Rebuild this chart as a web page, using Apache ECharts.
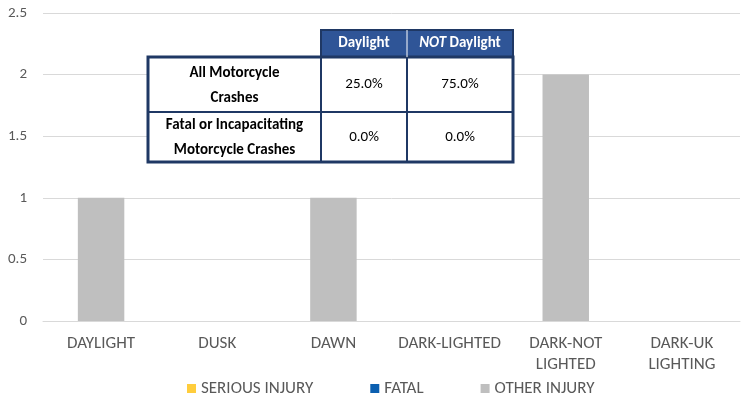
<!DOCTYPE html>
<html><head><meta charset="utf-8">
<script src="https://cdn.jsdelivr.net/npm/echarts@6/dist/echarts.min.js"></script>
<style>html,body{margin:0;padding:0;background:#fff}#c{width:741px;height:405px}</style>
</head><body><div id="c"></div>
<script>
const categories = ['DAYLIGHT','DUSK','DAWN','DARK-LIGHTED','DARK-NOT\nLIGHTED','DARK-UK\nLIGHTING'];
const seriousInjury = [0,0,0,0,0,0];
const fatal = [0,0,0,0,0,0];
const otherInjury = [1,0,1,0,2,0];
const yTicks = [0,0.5,1,1.5,2,2.5];
const tableHeader = ['Daylight','NOT Daylight'];
const tableRowLabels = ['All Motorcycle\nCrashes','Fatal or Incapacitating\nMotorcycle Crashes'];
const tableDaylight = ['25.0%','0.0%'];
const tableNotDaylight = ['75.0%','0.0%'];

const FONT = 'Carlito, "Liberation Sans Narrow", "Open Sans", sans-serif';
const chart = echarts.init(document.getElementById('c'));

// table geometry
const X0=148, X1=321, X2=407, X3=513, Y0=30, Y1=57, Y2=112, Y3=162;
const navy='#1F3864', headFill='#2F5597';
const g=[];
g.push({type:'rect',shape:{x:X1,y:Y0,width:X3-X1,height:Y1-Y0},style:{fill:headFill,stroke:navy,lineWidth:2},z:100});
g.push({type:'line',shape:{x1:X2,y1:Y0,x2:X2,y2:Y1},style:{stroke:'#fff',lineWidth:1},z:101});
g.push({type:'rect',shape:{x:X0,y:Y1,width:X3-X0,height:Y3-Y1},style:{fill:'#fff',stroke:navy,lineWidth:3},z:100});
g.push({type:'line',shape:{x1:X0,y1:Y2,x2:X3,y2:Y2},style:{stroke:navy,lineWidth:2},z:101});
g.push({type:'line',shape:{x1:X1,y1:Y1,x2:X1,y2:Y3},style:{stroke:navy,lineWidth:2},z:101});
g.push({type:'line',shape:{x1:X2,y1:Y1,x2:X2,y2:Y3},style:{stroke:navy,lineWidth:2},z:101});
g.push({type:'text',x:(X1+X2)/2,y:(Y0+Y1)/2,style:{text:tableHeader[0],fill:'#fff',font:'bold 15px '+FONT,align:'center',verticalAlign:'middle'},z:102});
g.push({type:'text',x:(X2+X3)/2,y:(Y0+Y1)/2,style:{
  text:'{i|'+tableHeader[1].split(' ')[0]+'} {b|'+tableHeader[1].split(' ').slice(1).join(' ')+'}',
  rich:{i:{fontStyle:'italic',fontWeight:'bold',fontSize:15,fontFamily:FONT,fill:'#fff'},b:{fontWeight:'bold',fontSize:15,fontFamily:FONT,fill:'#fff'}},
  fill:'#fff',align:'center',verticalAlign:'middle'},z:102});
const rowsY=[[Y1,Y2],[Y2,Y3]];
for(let i=0;i<2;i++){
  const cy=(rowsY[i][0]+rowsY[i][1])/2;
  g.push({type:'text',x:(X0+X1)/2,y:cy+1,style:{text:tableRowLabels[i],fill:'#000',font:'bold 15px '+FONT,align:'center',verticalAlign:'middle',lineHeight:25},z:102});
  g.push({type:'text',x:(X1+X2)/2,y:cy,style:{text:tableDaylight[i],fill:'#000',font:'15px '+FONT,align:'center',verticalAlign:'middle'},z:102});
  g.push({type:'text',x:(X2+X3)/2,y:cy,style:{text:tableNotDaylight[i],fill:'#000',font:'15px '+FONT,align:'center',verticalAlign:'middle'},z:102});
}

chart.setOption({
  animation:false,
  textStyle:{fontFamily:FONT},
  grid:{left:43,right:1,top:13,bottom:84,containLabel:false},
  legend:{left:187,top:380,padding:0,itemWidth:9,itemHeight:9,itemGap:57,icon:'rect',
    textStyle:{color:'#595959',fontSize:17,fontFamily:FONT},
    data:['SERIOUS INJURY','FATAL','OTHER INJURY']},
  xAxis:{type:'category',data:categories,
    axisLine:{lineStyle:{color:'#D9D9D9',width:1}},axisTick:{show:false},
    axisLabel:{color:'#595959',fontSize:17,margin:12,lineHeight:21,interval:0,fontFamily:FONT}},
  yAxis:{type:'value',min:yTicks[0],max:yTicks[yTicks.length-1],interval:0.5,
    axisLine:{show:false},axisTick:{show:false},
    splitLine:{lineStyle:{color:'#D9D9D9',width:1}},
    axisLabel:{color:'#595959',fontSize:15,margin:16,fontFamily:FONT}},
  series:[
    {name:'SERIOUS INJURY',type:'bar',stack:'s',data:seriousInjury,itemStyle:{color:'#FFCD3C'},barWidth:'40%'},
    {name:'FATAL',type:'bar',stack:'s',data:fatal,itemStyle:{color:'#0B5FB0'}},
    {name:'OTHER INJURY',type:'bar',stack:'s',data:otherInjury,itemStyle:{color:'#BFBFBF'}}
  ],
  graphic:g
});
</script></body></html>
